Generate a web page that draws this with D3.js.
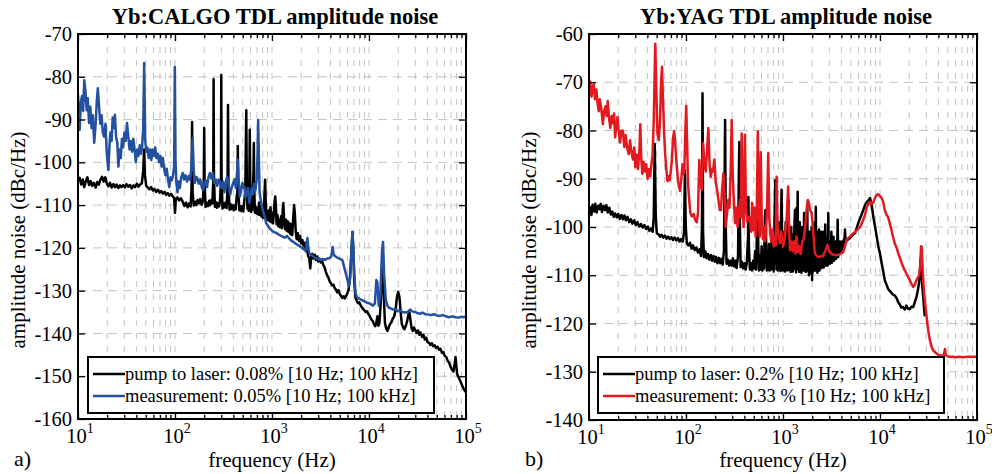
<!DOCTYPE html>
<html><head><meta charset="utf-8">
<script src="https://cdn.jsdelivr.net/npm/d3@7"></script>
<style>body{margin:0;background:#fff}svg{display:block}text{font-family:"Liberation Serif","Times New Roman",serif;fill:#000}</style>
</head><body><svg id="c" width="992" height="474"></svg>
<script>
// ---------------- DATA ----------------
const xTickExponents = [1, 2, 3, 4, 5];
const calgoYTicks = [-160, -150, -140, -130, -120, -110, -100, -90, -80, -70];
const yagYTicks = [-140, -130, -120, -110, -100, -90, -80, -70, -60];
const titles = ["Yb:CALGO TDL amplitude noise", "Yb:YAG TDL amplitude noise"];
const panelTags = ["a)", "b)"];
const calgoLegend = ["pump to laser: 0.08% [10 Hz; 100 kHz]", "measurement: 0.05% [10 Hz; 100 kHz]"];
const yagLegend = ["pump to laser: 0.2% [10 Hz; 100 kHz]", "measurement: 0.33 % [10 Hz; 100 kHz]"];

// Yb:CALGO pump to laser (Hz, dBc/Hz)
const calgoPump = [[10,-104.2],[10.4,-103.6],[10.8,-105.2],[11.2,-104],[11.6,-105.8],[12,-104.5],[12.5,-103.5],[13,-105.3],[13.5,-104.4],[14,-105.5],[14.6,-104.8],[15.2,-105.9],[15.8,-104.6],[16.4,-105.2],[17,-104.1],[17.7,-103.4],[18.4,-104.5],[19.1,-103.5],[19.8,-104.9],[20.6,-105.6],[21.4,-104.8],[22.3,-105.9],[23.2,-105.1],[24.1,-105.8],[25,-105.2],[26,-106],[27,-105.4],[28,-105.8],[29.2,-105.3],[30.4,-105.9],[31.6,-105.1],[33,-105.7],[34.4,-105.3],[35.8,-106.1],[37.3,-105.4],[38.8,-105.8],[40.4,-105],[42,-105.7],[43.7,-105.2],[45.5,-104.9],[47,-102],[48,-97],[49,-103],[50.5,-105.5],[52.5,-105.9],[54.5,-106.3],[56.7,-105.8],[59,-106.6],[61.4,-106.2],[64,-106.9],[66.6,-106.4],[69.3,-107.1],[72,-106.7],[75,-107.3],[78,-106.9],[81,-107.6],[84.3,-107.2],[87.7,-107.8],[91.2,-107.4],[95,-108],[98,-108.3],[100,-111.8],[102,-108.6],[106,-108.2],[110,-108.9],[115,-108.4],[120,-109.2],
[125,-110.2],[130,-109.4],[135,-110.5],[140,-109.6],[145,-110.3],[148,-106],[150,-90.6],[152,-107],[156,-110.1],[161,-109.2],[166,-110],[171,-108.8],[176,-109.6],[182,-108.6],[188,-109.9],[194,-109.1],[198,-104],[200,-92],[202,-105],[207,-110.4],[213,-109.5],[219,-110.2],[225,-109],[231,-110],[237,-108.8],[243,-109.6],[248,-104],[250,-80.5],[252,-103],[258,-110.4],[264,-109.3],[270,-110.6],[277,-109.5],[284,-110.3],[291,-109.2],[298,-104],[300,-79.6],[302,-103],[309,-110.8],[316,-109.6],[324,-110.5],[332,-109.4],[340,-110.7],[348,-106],[352,-86.6],[356,-105],[365,-111.1],[374,-109.8],[383,-110.9],[392,-110],[402,-111.2],[412,-110.1],[422,-111],[432,-108],[440,-107],[444,-96.2],[449,-106],[460,-111.2],[471,-110.2],[482,-111.4],[494,-110.3],[506,-111.5],[518,-109],[530,-107],[543,-87.8],[550,-104],[558,-110.8],[566,-108],[574,-111.3],[582,-107.5],[590,-92.4],[598,-107],[607,-111.6],[616,-108],[625,-111.2],[635,-106],[645,-102],[650,-95.5],[656,-106],[667,-111.8],[680,-110.4],[694,-112],[708,-110.6],[722,-112.2],[736,-109.4],[750,-112.3],[765,-110.2],[780,-112.7],[795,-111.2],[810,-113],[826,-110.6],[842,-106],[850,-104.1],[858,-108],[875,-113.2],[892,-111.5],[910,-113.5],[928,-111.2],[946,-113.8],[965,-110.5],[985,-114],[1005,-111.8],[1025,-114.3],[1045,-112],[1065,-109],[1080,-108],[1095,-110],[1115,-114.5],[1140,-112.3],[1165,-115],[1190,-113.5],[1215,-115.2],[1240,-112.6],[1265,-115.4],[1290,-111],[1310,-109.5],[1330,-113],[1360,-115.6],[1390,-113.4],[1420,-116],[1450,-113.8],[1480,-116.3],[1510,-114.2],[1545,-116.8],[1580,-114.5],[1615,-117],[1650,-113.5],[1690,-110],[1720,-112],[1760,-116.5],[1800,-118],[1850,-116.6],[1900,-118.4],[1950,-117.2],[2000,-119],[2060,-118.2],[2120,-119.6],[2180,-118.8],[2240,-120.8],[2300,-120],[2360,-122],[2420,-122.3],[2480,-124.8],[2540,-122],[2600,-121.4],[2680,-122.5],[2760,-121.6],[2840,-122.8],[2920,-122],[3000,-123.2],[3090,-122.5],[3180,-123.4],[3280,-123],[3380,-124],[3480,-124.5],[3590,-125.6],[3700,-126.4],[3810,-126.9],[3930,-127.8],[4050,-128.3],[4170,-128.8],[4300,-128.6],[4430,-129.4],[4570,-129.8],[4710,-130.4],[4850,-129.9],[5000,-130.8],[5150,-131.2],[5300,-131.7],[5460,-131.3],[5630,-131.8],[5800,-131.2],[5980,-130.6],[6160,-129.8],[6350,-127],[6550,-122],[6750,-116.3],[6900,-121],[7050,-128],[7250,-131.5],[7470,-132.4],[7700,-132.9],[7940,-132.7],[8180,-133.4],[8430,-133.9],[8690,-134.3],[8960,-134.6],[9240,-135],[9520,-134.8],[9810,-135.4],[10100,-135.8],[10400,-136.4],[10700,-136.9],[11000,-137.2],[11300,-137.9],[11600,-138.3],[11900,-137.5],[12200,-136],[12500,-138.2],[12800,-137.6],[13200,-133],[13600,-126],[13900,-125],[14200,-131],[14600,-137.5],[15000,-138.8],[15500,-139.4],[16000,-138.5],[16500,-137.8],[17000,-137.4],[17600,-136.5],[18200,-136],[18800,-134.5],[19400,-131.5],[20000,-130.3],[20600,-131.5],[21200,-135],[21800,-137.8],[22500,-138.6],[23200,-139],[24000,-138.2],[24800,-137],[25500,-135.5],[26100,-135],[26800,-137],[27500,-138.8],[28300,-139.4],[29100,-138.6],[30000,-139.2],[31000,-139.9],[32000,-139.3],[33000,-140.3],[34000,-139.8],[35200,-140.8],[36400,-140.3],[37600,-141.4],[38800,-141],[40100,-142],[41500,-142.2],[43000,-142.7],[44500,-142.3],[46000,-143],[47600,-142.8],[49200,-143.4],[51000,-143.1],[52800,-143.8],[54600,-143.6],[56500,-144.5],[58500,-144.4],[60500,-145.3],[62600,-145.5],[64700,-146.4],[67000,-146.8],[69300,-147.8],[71700,-148.5],[74200,-148.9],[76500,-147],[78000,-145.5],[79500,-147.5],[81000,-149.5],[84000,-150.3],[87000,-151],[90000,-151.8],[93000,-152.6],[96000,-153.2],[100000,-153.8]];

// Yb:CALGO measurement
const calgoMeas = [[10,-84],[10.2,-89],[10.4,-92.4],[10.7,-86],[11,-84.5],[11.3,-88],[11.6,-80.8],[11.9,-83],[12.3,-87.8],[12.6,-85],[13,-90.8],[13.4,-87],[13.8,-92],[14.2,-89],[14.7,-95.4],[15.2,-91],[15.6,-86],[16,-82.7],[16.5,-87],[17,-91],[17.5,-89],[18,-93],[18.6,-94],[19.2,-91],[19.7,-97],[20.2,-100],[20.6,-101.8],[21.1,-96],[21.6,-93],[22.2,-95],[22.8,-89.5],[23.4,-92],[24,-88.9],[24.7,-94],[25.4,-95.4],[26.1,-101],[26.8,-97],[27.6,-99],[28.4,-94.5],[29.2,-96.5],[30.1,-93],[31,-95],[32,-90.8],[33,-94],[34,-97],[35,-95],[36.1,-97.5],[37.2,-94.5],[38.3,-97],[39.5,-100],[40.7,-97],[42,-98.5],[43.3,-96],[44.6,-98],[45.8,-96.5],[47,-92],[48.1,-76.8],[49.3,-95],[50.7,-97.5],[52,-96.6],[53.6,-99],[55.3,-97],[57,-99.5],[58.8,-97],[60.6,-98.5],[62.5,-96.5],[64.4,-99],[66.4,-98],[68.5,-100],[70.6,-98.5],[72.8,-101],[75,-99],[77.3,-101.5],[79.7,-103],[82.2,-101.5],[84.7,-104],[87.3,-105.8],[90,-103.5],[92.7,-104.2],[95.5,-103],[98,-101],[99.6,-77.7],[101.3,-100],[103.5,-105],[106,-107],[109,-104.5],[112,-106],[116,-103.5],[120,-102.5],
[124,-104],[128,-103],[133,-104.5],[138,-103.2],[143,-104.1],[148,-101],[152,-94.3],[156,-102],[160,-104.8],[165,-103.4],[170,-103.7],[176,-105],[182,-104],[188,-105.6],[194,-106.5],[200,-105],[207,-104.2],[214,-105.8],[221,-103.5],[229,-102.5],[237,-103.8],[245,-102.5],[254,-104.8],[263,-104],[272,-105.5],[282,-104],[292,-104.8],[302,-106],[312,-104.5],[323,-107],[334,-104.5],[346,-103.4],[358,-105.5],[370,-107.5],[383,-106],[396,-105],[410,-104],[424,-106],[438,-102],[444,-99.4],[452,-104],[466,-108],[480,-106.5],[495,-104.8],[510,-106],[520,-105.8],[535,-108.2],[550,-107],[566,-106],[584,-109.5],[600,-108],[618,-106],[636,-107.5],[655,-105],[675,-106.5],[695,-104],[710,-98],[720,-90.1],[730,-98],[745,-107],[762,-108.5],[790,-110.4],[820,-112],[850,-113],[870,-114.2],[900,-114.7],[935,-115.3],[980,-115.8],[1030,-116.2],[1100,-116.5],[1160,-116.8],[1220,-117.1],[1290,-117.4],[1360,-117.6],[1430,-117.2],[1500,-117.8],[1580,-118.3],[1660,-118.6],[1750,-119],[1840,-119.3],[1930,-119.6],[2030,-120],[2130,-120.3],[2220,-120.6],[2280,-119],[2320,-117.7],[2360,-119.8],[2420,-121.2],[2520,-121.6],[2640,-121.9],[2770,-122.3],[2900,-122.5],[3040,-122.6],[3190,-122.8],[3350,-122.6],[3520,-122.8],[3700,-122.5],[3880,-122.4],[4080,-122],[4220,-119.8],[4320,-121.5],[4450,-121.9],[4650,-122.2],[4850,-122.4],[5050,-122.6],[5300,-122.8],[5550,-124.5],[5800,-126.2],[6000,-127.5],[6200,-129],[6400,-127],[6600,-121],[6750,-116.3],[6900,-120],[7050,-126],[7250,-130.5],[7500,-131.5],[7800,-131.8],[8100,-132],[8450,-132.2],[8800,-132.4],[9200,-132.6],[9600,-132.9],[10000,-132.9],[10500,-133.2],[11000,-133.5],[11500,-133],[11900,-127.5],[12200,-128],[12600,-133.5],[13100,-131],[13600,-121],[13950,-118.6],[14300,-126],[14900,-132.2],[15500,-133.5],[16100,-134],[17000,-134.2],[17800,-134.4],[18900,-134.4],[20000,-134.8],[21000,-134.6],[22100,-135],[23500,-135.1],[25000,-135],[26500,-134.4],[28200,-134.9],[30000,-135],[32000,-135.3],[34000,-135.4],[35500,-135.1],[38000,-135.5],[41000,-135.6],[44000,-135.7],[47000,-135.5],[50000,-135.8],[54000,-135.9],[58000,-135.7],[62000,-136],[67000,-136.2],[72000,-136],[78000,-136.2],[84000,-136.3],[90000,-136.1],[95000,-136.2],[100000,-136]];

// Yb:YAG pump to laser
const yagPump = [[10,-97],[10.3,-95.9],[10.6,-97.5],[10.9,-95.4],[11.3,-96.8],[11.6,-95.2],[12,-97],[12.4,-95.6],[12.8,-96.3],[13.2,-95.2],[13.6,-96.9],[14.1,-95.6],[14.6,-96.5],[15.1,-95.5],[15.6,-97],[16.2,-96],[16.8,-97.4],[17.4,-96.8],[18,-97.9],[18.6,-97.2],[19.3,-98],[20,-97.3],[20.8,-98.3],[21.6,-97.5],[22.4,-98.4],[23.2,-97.6],[24,-98.6],[25,-97.9],[26,-99],[27,-98.4],[28,-99.3],[29.2,-98.6],[30.4,-99.6],[31.6,-99],[33,-99.9],[34.4,-99.4],[35.8,-100.1],[37.3,-99.6],[38.8,-100.4],[40.4,-99.9],[42,-100.8],[43.7,-100.3],[45.3,-101],[46.5,-98],[47.6,-82.8],[48.8,-98],[50,-101.3],[52,-101.5],[54,-102],[56,-101.6],[58.2,-102.2],[60.5,-101.8],[62.9,-102.4],[65.4,-102],[68,-102.5],[70.7,-102.1],[73.5,-102.7],[76.4,-102.2],[79.4,-102.8],[82.5,-102.3],[85.8,-103],[89.2,-102.5],[92.7,-103],[95.5,-101],[97.5,-88.3],[99.5,-100],[102,-103.4],[106,-103.8],[110,-103.3],[114,-104.5],[118,-103.8],[123,-104.8],[128,-104.2],[133,-105.3],[138,-104.6],[143,-106],[146,-100],[148,-72.3],[150,-101],[153,-106.2],[158,-105],[163,-106.5],[168,-105.6],[174,-106.8],[180,-105.8],[186,-107],[192,-106],[198,-107.2],[204,-106.2],[211,-107.5],[218,-106.4],[225,-107.5],[232,-106.6],[239,-107.8],[246,-105],[250,-90],[253,-77.8],[257,-100],[262,-107.6],[270,-106.8],[278,-108],[287,-107],[296,-108],[305,-106.5],[314,-108.2],[322,-107],[332,-108.5],[344,-106],[350,-90],[355,-82.4],[360,-100],[366,-108.3],[376,-107.2],[388,-108.6],[400,-107.5],[412,-108.8],[424,-107.4],[436,-102],[440,-93.8],[445,-104],[456,-108.8],[468,-107.5],[480,-109],[492,-107],[504,-108.6],[516,-105],[528,-108.8],[540,-100],[548,-91.3],[556,-104],[566,-109],[578,-106],[590,-108.8],[602,-104],[614,-109],[626,-105],[638,-108.6],[650,-98],[660,-96.5],[670,-103],[682,-109],[694,-106],[706,-108.9],[718,-103.5],[730,-109],[742,-105],[754,-108.8],[766,-101],[778,-108.7],[790,-104],[802,-109.2],[816,-100],[832,-90.3],[846,-104],[858,-108.8],[870,-103],[884,-109],[898,-99],[912,-108.6],[926,-104],[940,-109.1],[954,-98],[967,-92.3],[980,-104],[994,-109],[1008,-102],[1022,-108.7],[1036,-101],[1050,-109.2],[1065,-99],[1080,-108.6],[1095,-103],[1110,-109],[1125,-100],[1140,-94.4],[1155,-104],[1170,-108.9],[1185,-102],[1200,-109.3],[1216,-100],[1232,-108.8],[1248,-101.5],[1264,-109.2],[1280,-102],[1296,-108.6],[1313,-99],[1330,-96.5],[1347,-104],[1364,-109.4],[1381,-96],[1398,-108.8],[1416,-92.7],[1434,-108.5],[1452,-101],[1470,-109.3],[1490,-99],[1510,-108.9],[1530,-103],[1550,-109.5],[1570,-100],[1590,-108.6],[1610,-104],[1630,-109],[1650,-97.1],[1670,-108.4],[1692,-101],[1714,-109.3],[1736,-99],[1758,-108.8],[1780,-95.5],[1802,-109],[1826,-102],[1850,-110],[1874,-101],[1898,-108.5],[1922,-103],[1946,-109.6],[1970,-100],[1995,-111],[2020,-102],[2045,-109.2],[2070,-104],[2096,-108.4],[2122,-99],[2150,-109],[2178,-95.8],[2206,-108.2],[2234,-102],[2262,-109.5],[2290,-101],[2320,-108],[2350,-100.5],[2380,-109],[2410,-103],[2440,-107.8],[2470,-101],[2500,-108.5],[2530,-104],[2562,-107.6],[2594,-101],[2626,-108.4],[2658,-103],[2690,-107.5],[2724,-99.5],[2758,-108],[2792,-104],[2826,-107],[2860,-102],[2894,-108],[2930,-97.1],[2966,-107.2],[3002,-103],[3040,-107.6],[3078,-104],[3116,-106.8],[3154,-101],[3194,-107.4],[3234,-104],[3274,-106.6],[3314,-102],[3356,-107],[3398,-104.5],[3440,-106.3],[3484,-103],[3528,-106.6],[3572,-104],[3616,-105.8],[3660,-98.5],[3706,-106.2],[3752,-104],[3800,-105.6],[3848,-103],[3896,-105.2],[3944,-104],[3994,-105],[4044,-103],[4094,-104.6],[4146,-103.5],[4198,-104.2],[4250,-102.5],[4300,-103.6],[4350,-100.5],[4420,-103.2],[4530,-102.8],[4700,-102.6],[4900,-102.3],[5150,-101.8],[5540,-101.2],[5970,-99.2],[6350,-97.8],[6720,-96.5],[7000,-95.5],[7300,-94.8],[7600,-94.5],[7900,-94],[8220,-95.6],[8550,-98],[8900,-100],[9250,-102],[9620,-104.1],[10000,-105.5],[10400,-107.5],[10800,-109.2],[11200,-111],[11700,-112],[12100,-112.8],[12800,-113.4],[13600,-114],[14200,-114.2],[14900,-114.8],[15400,-115.6],[15900,-116],[16600,-116.7],[17300,-116.6],[18000,-117.1],[18700,-116.3],[19400,-116.9],[20300,-117],[21100,-116.5],[22000,-116.6],[22800,-115.6],[23800,-114.5],[24600,-113],[25300,-111.5],[25900,-109],[26300,-106.5],[26700,-109],[27200,-112],[27900,-114.5],[28500,-117],[29000,-118.5]];

// Yb:YAG measurement
const yagMeas = [[10,-69.5],[10.3,-70],[10.6,-73],[10.9,-71],[11.2,-70.4],[11.5,-73.5],[11.9,-71.5],[12.2,-74],[12.6,-76],[12.9,-73.5],[13.3,-75],[13.9,-78.7],[14.3,-76],[14.8,-75],[15.2,-77],[15.6,-73.9],[16.1,-77.5],[16.6,-79.5],[17.1,-77],[17.6,-78.5],[18.1,-76.5],[18.6,-81.4],[19.1,-79],[19.7,-77.2],[20.3,-80.5],[20.9,-82.5],[21.6,-80],[22.4,-80.1],[23.1,-83.4],[23.9,-81],[24.7,-83.5],[25.7,-84.9],[26.5,-82],[27.4,-84.5],[28.4,-86],[29.3,-83.5],[30,-87.6],[31,-85],[32,-88],[33,-84.5],[33.8,-78.7],[34.6,-86],[35.5,-89],[36.5,-86.5],[37.6,-88.5],[38.8,-87],[40.2,-90],[41.5,-88],[42.8,-89.5],[44,-87],[45.2,-85],[46.5,-78],[48.2,-62],[49.5,-72],[50.8,-80.7],[52.4,-82],[54,-78],[55.3,-70],[56.6,-66.8],[58,-74],[59.5,-80.5],[61,-85],[62.7,-88],[64.4,-90.5],[66,-89.5],[67.8,-90.3],[69.7,-88.5],[71.6,-86],[73.6,-81.5],[75.6,-80.1],[77.6,-83],[79.7,-86.5],[82,-89.5],[84.4,-91.5],[87,-92.5],[89.5,-90],[92,-87],[94.5,-89],[96.5,-87],[98.5,-80],[100.5,-74.9],[102.5,-82],[105,-91],[108,-94.5],[111,-97.1],[115,-97.8],[120,-97.3],[124,-98.5],[129,-99],[133,-97],[137,-86.1],[141,-90],[145,-92.3],[150,-82.6],[155,-87],[160,-88.5],[165,-84],[170,-79.5],[175,-87],[180,-89.6],[185,-88],[190,-88.5],[196,-86],[203,-90.9],[210,-92.5],[216,-94.4],[223,-96.5],[229,-96.5],[236,-92],[243,-88.9],[250,-93],[257,-100],[265,-97],[273,-94.4],[281,-96],[289,-88],[296,-77.8],[303,-89],[311,-94.4],[320,-99.2],[330,-96],[340,-100],[350,-97],[360,-94.4],[368,-98],[375,-80.6],[383,-95],[393,-100],[405,-80.9],[415,-96],[427,-99],[440,-97.9],[455,-98],[470,-101],[480,-95],[494,-100.6],[508,-96],[522,-102],[536,-97.5],[550,-80.2],[562,-97],[576,-102],[590,-84.5],[604,-99],[620,-102.5],[636,-100],[652,-103],[667,-101.3],[685,-96],[704,-84.7],[722,-98],[740,-101.5],[760,-103],[780,-100.5],[800,-104],[820,-102],[842,-103.8],[860,-89.6],[880,-100],[900,-102],[930,-103.3],[960,-101],[1000,-104.1],[1040,-102.5],[1090,-98.5],[1130,-91.6],[1160,-101],[1180,-104.8],[1220,-103],[1260,-105],[1300,-103],[1340,-105.5],[1380,-102],[1420,-105.2],[1470,-104],[1520,-105.6],[1580,-103],[1640,-102.5],[1700,-99.5],[1760,-96],[1800,-94.4],[1850,-95],[1900,-96.5],[1970,-97],[2050,-101],[2130,-105.4],[2220,-106],[2300,-106.2],[2420,-106.1],[2590,-106],[2720,-105],[2870,-103.7],[3000,-105],[3160,-105.6],[3400,-105.8],[3700,-105.8],[3950,-105.5],[4180,-105.2],[4350,-104],[4530,-102.7],[4700,-102.3],[4900,-102],[5200,-101.5],[5540,-101],[5900,-100.5],[6240,-100],[6720,-98.5],[7000,-97.5],[7300,-95.9],[7600,-95.2],[7900,-94.8],[8200,-95.2],[8500,-95],[8850,-94],[9230,-93.4],[9600,-93.2],[9980,-93.6],[10400,-94],[10800,-94.8],[11200,-96.5],[11700,-97.5],[12100,-97.9],[12600,-99.2],[13100,-100.5],[13600,-102],[14200,-103.4],[14900,-104.4],[15400,-105.4],[15900,-106.2],[16800,-107.6],[17900,-108.9],[19100,-110],[20300,-111],[21100,-111.8],[22000,-112.4],[22800,-112],[23500,-111.2],[24400,-110.6],[25300,-110],[26000,-108],[26500,-104],[26900,-104.1],[27400,-108],[27900,-111],[28700,-114.5],[29500,-116.6],[30400,-119],[31400,-121.4],[32700,-123.5],[34100,-124.9],[35400,-125.6],[36800,-125.9],[38800,-126.3],[40900,-126.6],[43500,-126.7],[45500,-126.5],[46800,-125.3],[47600,-126.5],[49500,-126.8],[52000,-126.9],[56000,-126.9],[60000,-127],[66000,-126.9],[72000,-127],[80000,-126.9],[91000,-126.9],[100000,-126.9]];

// ---------------- DRAWING ----------------
const svg = d3.select("#c");
const FONT = '"Liberation Serif","Times New Roman",serif';

function panel(p) {
  const g = svg.append("g");
  const x = d3.scaleLog().domain([10, 1e5]).range([p.x0, p.x1]);
  const y = d3.scaleLinear().domain([p.yTicks[0], p.yTicks[p.yTicks.length - 1]]).range([p.y1, p.y0]);
  const majors = xTickExponents.map(e => Math.pow(10, e));
  const minors = [];
  for (let e = 1; e < 5; e++) for (let m = 2; m <= 9; m++) minors.push(m * Math.pow(10, e));
  const gridX = minors.concat(majors.slice(1, -1));

  // grid
  g.append("g").selectAll("line").data(gridX).join("line")
    .attr("x1", d => x(d)).attr("x2", d => x(d)).attr("y1", p.y0).attr("y2", p.y1)
    .attr("stroke", "#c4c4c4").attr("stroke-width", 1).attr("stroke-dasharray", "6,7");
  g.append("g").selectAll("line").data(p.yTicks.slice(1, -1)).join("line")
    .attr("x1", p.x0).attr("x2", p.x1).attr("y1", d => y(d)).attr("y2", d => y(d))
    .attr("stroke", "#c4c4c4").attr("stroke-width", 1).attr("stroke-dasharray", "9,6");

  // clip + lines
  const cid = "clip" + p.id;
  svg.append("clipPath").attr("id", cid).append("rect")
    .attr("x", p.x0).attr("y", p.y0).attr("width", p.x1 - p.x0).attr("height", p.y1 - p.y0);
  const line = d3.line().x(d => x(d[0])).y(d => y(d[1]));
  const lg = g.append("g").attr("clip-path", `url(#${cid})`);
  p.series.forEach(s => {
    lg.append("path").datum(s.data).attr("d", line).attr("fill", "none")
      .attr("stroke", s.color).attr("stroke-width", 2.5).attr("stroke-linejoin", "round");
  });

  // axes (inward ticks on all sides)
  const styleAxis = a => { a.select(".domain").remove(); a.selectAll("line").attr("stroke", "#000").attr("stroke-width", 1.3); };
  g.append("g").attr("transform", `translate(0,${p.y1})`).call(d3.axisBottom(x).tickValues(majors).tickSize(-7).tickFormat("")).call(styleAxis);
  g.append("g").attr("transform", `translate(0,${p.y1})`).call(d3.axisBottom(x).tickValues(minors).tickSize(-4).tickFormat("")).call(styleAxis);
  g.append("g").attr("transform", `translate(0,${p.y0})`).call(d3.axisTop(x).tickValues(majors).tickSize(-7).tickFormat("")).call(styleAxis);
  g.append("g").attr("transform", `translate(0,${p.y0})`).call(d3.axisTop(x).tickValues(minors).tickSize(-4).tickFormat("")).call(styleAxis);
  const yl = g.append("g").attr("transform", `translate(${p.x0},0)`)
    .call(d3.axisLeft(y).tickValues(p.yTicks).tickSize(-7).tickPadding(6).tickFormat(d => String(d))).call(styleAxis);
  yl.attr("font-family", FONT).attr("font-size", 20.5);
  yl.selectAll("text").attr("fill", "#000");
  g.append("g").attr("transform", `translate(${p.x1},0)`).call(d3.axisRight(y).tickValues(p.yTicks).tickSize(-7).tickFormat("")).call(styleAxis);

  // x tick labels 10^n
  xTickExponents.forEach(e => {
    const t = g.append("text").attr("x", x(Math.pow(10, e)) + 2).attr("y", p.y1 + 24)
      .attr("text-anchor", "middle").attr("font-size", 20.5);
    t.append("tspan").text("10");
    t.append("tspan").attr("dy", -10).attr("font-size", 14).text(String(e));
  });

  // box
  g.append("rect").attr("x", p.x0).attr("y", p.y0).attr("width", p.x1 - p.x0).attr("height", p.y1 - p.y0)
    .attr("fill", "none").attr("stroke", "#000").attr("stroke-width", 2);

  // title, labels
  g.append("text").attr("x", (p.x0 + p.x1) / 2 + 3).attr("y", 24).attr("text-anchor", "middle")
    .attr("font-size", 22.5).attr("font-weight", "bold").text(p.title);
  g.append("text").attr("x", (p.x0 + p.x1) / 2).attr("y", 467).attr("text-anchor", "middle")
    .attr("font-size", 21).text("frequency (Hz)");
  g.append("text").attr("transform", `translate(${p.x0 - 53},240) rotate(-90)`).attr("text-anchor", "middle")
    .attr("font-size", 21).text("amplitude noise (dBc/Hz)");
  g.append("text").attr("x", p.x0 - 64).attr("y", 466).attr("font-size", 22).text(p.tag);

  // legend
  const L = p.legend;
  g.append("rect").attr("x", L.x).attr("y", L.y).attr("width", L.w).attr("height", L.h)
    .attr("fill", "#fff").attr("stroke", "#000").attr("stroke-width", 2);
  p.series.forEach((s, i) => {
    const cy = L.y + 17 + i * 22;
    g.append("line").attr("x1", L.x + 5).attr("x2", L.x + 37).attr("y1", cy).attr("y2", cy)
      .attr("stroke", s.color).attr("stroke-width", 2.5);
    g.append("text").attr("x", L.x + 37).attr("y", cy + 6).attr("font-size", 18.5).text(p.legendText[i]);
  });
}

panel({
  id: "a", x0: 78, x1: 466, y0: 34, y1: 419, yTicks: calgoYTicks, title: titles[0], tag: panelTags[0],
  series: [{ data: calgoPump, color: "#000000" }, { data: calgoMeas, color: "#2350a0" }],
  legendText: calgoLegend, legend: { x: 88, y: 357, w: 346, h: 56 }
});
panel({
  id: "b", x0: 589, x1: 977, y0: 34, y1: 420, yTicks: yagYTicks, title: titles[1], tag: panelTags[1],
  series: [{ data: yagPump, color: "#000000" }, { data: yagMeas, color: "#e3191f" }],
  legendText: yagLegend, legend: { x: 598, y: 357, w: 346, h: 56 }
});
</script></body></html>
